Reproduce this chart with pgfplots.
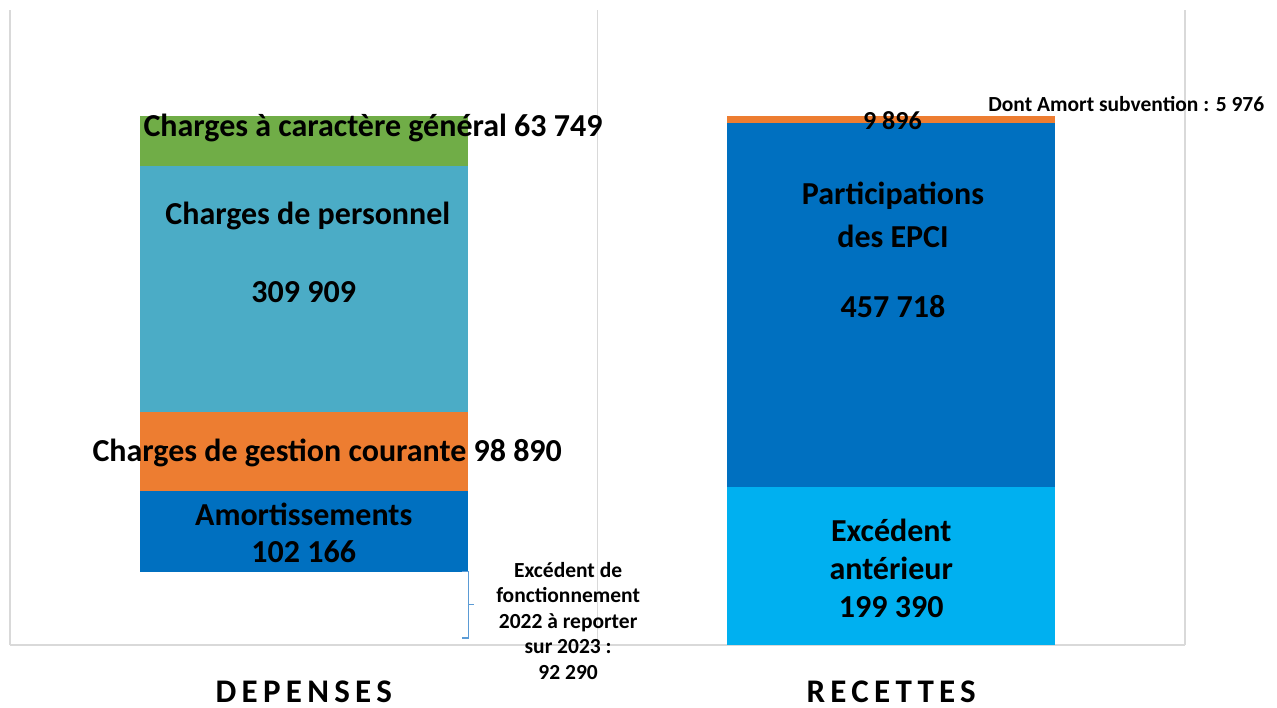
\documentclass[border=0pt]{standalone}
\usepackage{pgfplots}
\pgfplotsset{compat=1.18}
\usepackage{fontspec}
\setmainfont{Carlito}
\newfontfamily\spaced[LetterSpace=16]{Carlito}
\definecolor{cblue}{HTML}{0070C0}
\definecolor{corange}{HTML}{ED7D31}
\definecolor{cteal}{HTML}{4BACC6}
\definecolor{cgreen}{HTML}{70AD47}
\definecolor{clight}{HTML}{00B0F0}
\definecolor{cbracket}{HTML}{5B9BD5}
\begin{document}
\begin{tikzpicture}
\path[use as bounding box] (0,0) rectangle (1277pt,707pt);
\begin{axis}[at={(10pt,62pt)}, anchor=south west, scale only axis,
  width=1175pt, height=635pt,
  xmin=-0.5, xmax=1.5, ymin=0, ymax=800000,
  ybar stacked, bar width=328pt,
  axis line style={draw=none},
  xtick={-0.5,0.5,1.5}, xticklabels={}, major tick length=0pt,
  ytick={0}, yticklabels={},
  xmajorgrids, ymajorgrids,
  grid style={draw=black!15, line width=1.2pt},
  clip=false,
  every axis plot/.append style={draw=none}
]
\addplot[fill=none] coordinates {(0,92290) (1,0)};
\addplot[fill=cblue] coordinates {(0,102166) (1,0)};
\addplot[fill=corange] coordinates {(0,98890) (1,0)};
\addplot[fill=cteal] coordinates {(0,309909) (1,0)};
\addplot[fill=cgreen] coordinates {(0,63749) (1,0)};
\addplot[fill=clight] coordinates {(0,0) (1,199390)};
\addplot[fill=cblue] coordinates {(0,0) (1,457718)};
\addplot[fill=corange] coordinates {(0,0) (1,9896)};

\coordinate (l1) at (axis cs:0.118,651339);
\coordinate (l2) at (axis cs:0.007,540472);
\coordinate (l3) at (axis cs:0,444724);
\coordinate (l4) at (axis cs:0.040,241890);
\coordinate (l5) at (axis cs:0,165039);
\coordinate (l6) at (axis cs:0,117165);
\coordinate (r1) at (axis cs:1.003,565669);
\coordinate (r2) at (axis cs:1.003,515275);
\coordinate (r3) at (axis cs:1.003,425827);
\coordinate (r4) at (axis cs:1,144882);
\coordinate (r5) at (axis cs:1,97008);
\coordinate (r6) at (axis cs:1,47874);
\coordinate (r7) at (axis cs:1.002,660156);
\coordinate (r8) at (axis cs:1.4,681575);
\coordinate (ex) at (axis cs:0.45,30236);
\coordinate (b1) at (axis cs:0.269,92290);
\coordinate (b2) at (axis cs:0.2796,92290);
\coordinate (b3) at (axis cs:0.2796,8819);
\coordinate (b4) at (axis cs:0.269,8819);
\coordinate (b5) at (axis cs:0.2796,50554);
\coordinate (b6) at (axis cs:0.2898,50554);
\coordinate (c1) at (axis cs:0,-59213);
\coordinate (c2) at (axis cs:1,-59213);
\end{axis}
\tikzset{big/.style={font=\bfseries\fontsize{32}{38}\selectfont, text=black, inner sep=0pt},
  small/.style={font=\bfseries\fontsize{21.5}{25.5}\selectfont, text=black, inner sep=0pt, align=center}}
\node[big] at (l1) {Charges à caractère général 63 749};
\node[big] at (l2) {Charges de personnel};
\node[big] at (l3) {309 909};
\node[big] at (l4) {Charges de gestion courante 98 890};
\node[big] at (l5) {Amortissements};
\node[big] at (l6) {102 166};
\node[big] at (r1) {Participations};
\node[big] at (r2) {des EPCI};
\node[big] at (r3) {457 718};
\node[big] at (r4) {Excédent};
\node[big] at (r5) {antérieur};
\node[big] at (r6) {199 390};
\node[small, font=\bfseries\fontsize{26}{30}\selectfont] at (r7) {9 896};
\node[small] at (r8) {Dont Amort subvention : 5 976};
\node[small] at (ex) {Excédent de\\ fonctionnement\\ 2022 à reporter\\ sur 2023 :\\ 92 290};
\draw[cbracket, line width=1pt] (b1) -- (b2) -- (b3) -- (b4);
\draw[cbracket, line width=1pt] (b5) -- (b6);
\node[font=\spaced\bfseries\fontsize{33}{40}\selectfont, inner sep=0pt] at (c1) {DEPENSES};
\node[font=\spaced\bfseries\fontsize{33}{40}\selectfont, inner sep=0pt] at (c2) {RECETTES};
\end{tikzpicture}
\end{document}
